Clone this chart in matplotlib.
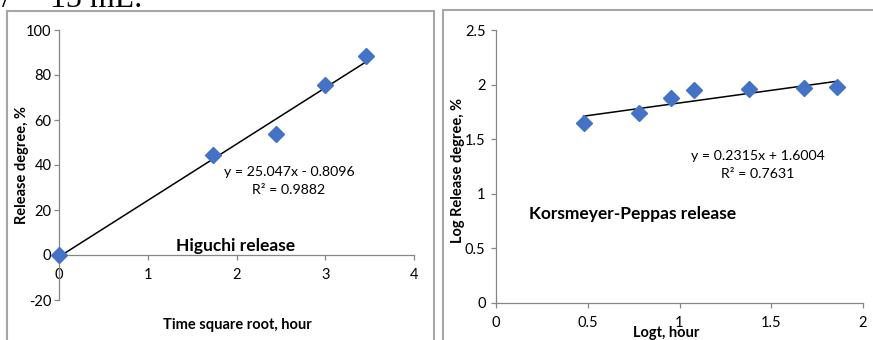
import matplotlib
matplotlib.use("Agg")
import matplotlib.pyplot as plt
from matplotlib.patches import Rectangle
import numpy as np

# ---------------- data ----------------
higuchi_x = [0.0, 1.732, 2.449, 3.0, 3.464]          # sqrt(t), hour
higuchi_y = [0.0, 44.5, 54.0, 75.7, 88.4]            # release degree, %
higuchi_slope, higuchi_intercept = 25.047, -0.8096
higuchi_r2 = 0.9882

kp_x = [0.477, 0.778, 0.954, 1.079, 1.380, 1.681, 1.857]   # log t
kp_y = [1.645, 1.737, 1.880, 1.950, 1.957, 1.970, 1.975]   # log release
kp_slope, kp_intercept = 0.2315, 1.6004
kp_r2 = 0.7631

left_xticks = [0, 1, 2, 3, 4]
left_yticks = [-20, 0, 20, 40, 60, 80, 100]
right_xticks = [0, 0.5, 1, 1.5, 2]
right_yticks = [0, 0.5, 1, 1.5, 2, 2.5]

# ---------------- figure ----------------
W, H = 873, 340
fig = plt.figure(figsize=(W / 100, H / 100), dpi=100)
plt.rcParams['font.family'] = ['Lato', 'DejaVu Sans']

def fx(px):
    return px / W

def fy(py):
    return 1 - py / H

def add_axes_px(x0, y0, x1, y1):
    return fig.add_axes([fx(x0), fy(y1), fx(x1) - fx(x0), fy(y0) - fy(y1)])

BLUE = '#4472C4'
GREY = '#868686'
BORDER = '#A6A6A6'
TICKFS = 10.5
LABFS = 10.5
EQFS = 10.2
TITFS = 12.5
MS = 8.3

# panel borders
fig.patches.append(Rectangle((fx(7), fy(345)), fx(434) - fx(7), fy(11) - fy(345),
                             transform=fig.transFigure, fill=False,
                             edgecolor=BORDER, linewidth=1.5))
fig.patches.append(Rectangle((fx(443), fy(345)), fx(880) - fx(443), fy(10) - fy(345),
                             transform=fig.transFigure, fill=False,
                             edgecolor=BORDER, linewidth=1.5))

# cropped text at the top
fig.text(fx(2), fy(7), '/', fontsize=23, family='Liberation Serif',
         ha='left', va='baseline')
fig.text(fx(50), fy(7), '15 mL.', fontsize=23, family='Liberation Serif',
         ha='left', va='baseline')

def style(ax):
    for s in ['top', 'right']:
        ax.spines[s].set_visible(False)
    for s in ['left', 'bottom']:
        ax.spines[s].set_color(GREY)
        ax.spines[s].set_linewidth(0.9)
    ax.spines['bottom'].set_position(('data', 0))
    ax.spines['left'].set_position(('data', 0))
    ax.tick_params(axis='both', which='major', direction='out', length=3.5,
                   width=0.9, color=GREY, labelsize=TICKFS, labelcolor='#000000')
    ax.tick_params(axis='x', pad=6)
    ax.tick_params(axis='y', pad=2)
    ax.patch.set_alpha(0)

# ---------------- left: Higuchi ----------------
ax1 = add_axes_px(59, 30, 414, 300)
style(ax1)
ax1.set_xlim(0, 4)
ax1.set_ylim(-20, 100)
ax1.set_xticks(left_xticks)
ax1.set_yticks(left_yticks)
ax1.set_xticklabels([str(v) for v in left_xticks])
ax1.set_yticklabels([str(v) for v in left_yticks])
hx = np.array([min(higuchi_x), max(higuchi_x)])
ax1.plot(hx, higuchi_slope * hx + higuchi_intercept, color='black', lw=1.1, zorder=3)
ax1.plot(higuchi_x, higuchi_y, linestyle='none', marker='D', ms=MS,
         color=BLUE, mec=BLUE, zorder=4, clip_on=False)
fig.text(fx(289), fy(172), f'y = {higuchi_slope}x - {abs(higuchi_intercept)}',
         fontsize=EQFS, ha='center', va='center')
fig.text(fx(289), fy(190), f'R² = {higuchi_r2}', fontsize=EQFS, ha='center', va='center')
fig.text(fx(236), fy(246), 'Higuchi release', fontsize=TITFS, fontweight='bold',
         ha='center', va='center')
fig.text(fx(237), fy(325), 'Time square root, hour', fontsize=LABFS, fontweight='bold',
         ha='center', va='center')
fig.text(fx(22), fy(165), 'Release degree, %', fontsize=LABFS, fontweight='bold',
         ha='center', va='center', rotation=90)

# ---------------- right: Korsmeyer-Peppas ----------------
ax2 = add_axes_px(496, 30, 863, 303)
style(ax2)
ax2.set_xlim(0, 2)
ax2.set_ylim(0, 2.5)
ax2.set_xticks(right_xticks)
ax2.set_yticks(right_yticks)
ax2.set_xticklabels([f'{v:g}' for v in right_xticks])
ax2.set_yticklabels([f'{v:g}' for v in right_yticks])
ax2.tick_params(axis='y', pad=4)
kx = np.array([min(kp_x), max(kp_x)])
ax2.plot(kx, kp_slope * kx + kp_intercept, color='black', lw=1.1, zorder=3)
ax2.plot(kp_x, kp_y, linestyle='none', marker='D', ms=MS,
         color=BLUE, mec=BLUE, zorder=4, clip_on=False)
fig.text(fx(758), fy(156), f'y = {kp_slope}x + {kp_intercept}',
         fontsize=EQFS, ha='center', va='center')
fig.text(fx(758), fy(174), f'R² = {kp_r2}', fontsize=EQFS, ha='center', va='center')
fig.text(fx(633), fy(214), 'Korsmeyer-Peppas release', fontsize=TITFS, fontweight='bold',
         ha='center', va='center')
fig.text(fx(666), fy(333), 'Logt, hour', fontsize=LABFS, fontweight='bold',
         ha='center', va='center')
fig.text(fx(458), fy(170), 'Log Release degree, %', fontsize=LABFS, fontweight='bold',
         ha='center', va='center', rotation=90)

fig.savefig('out.png', dpi=100)
